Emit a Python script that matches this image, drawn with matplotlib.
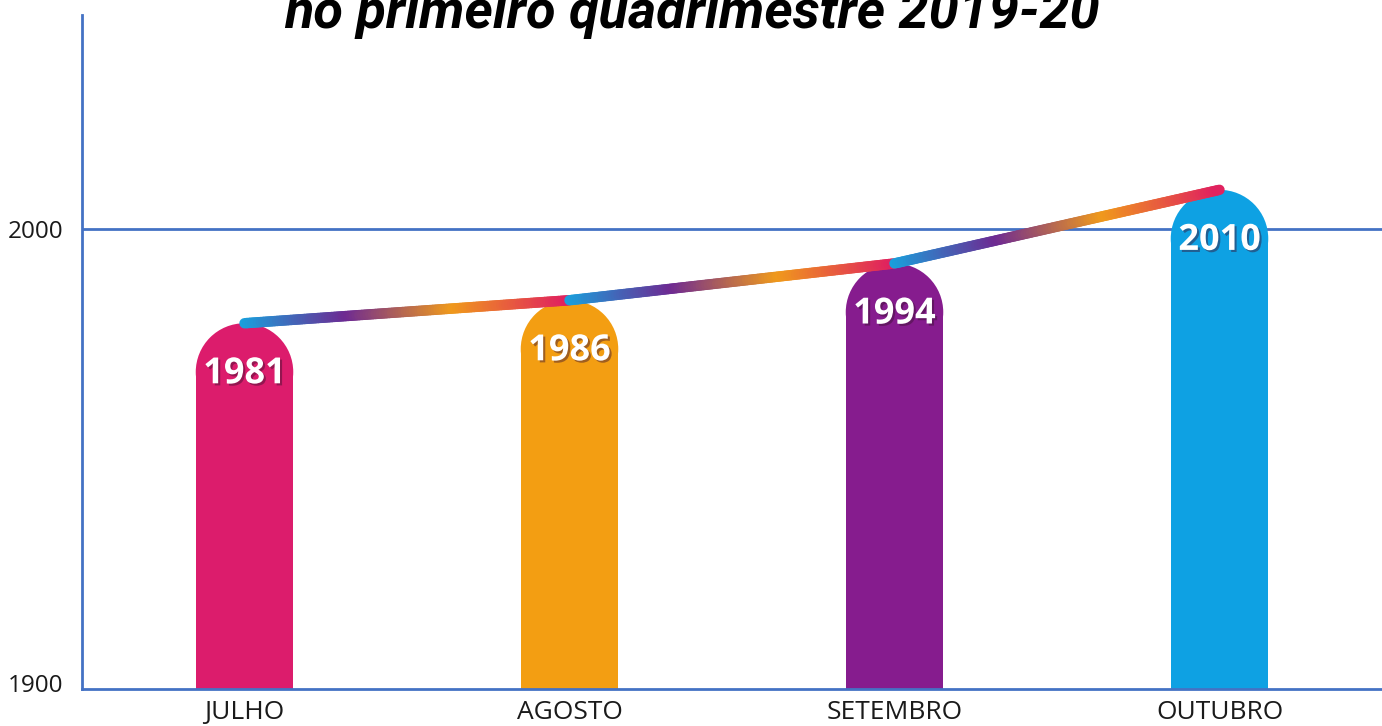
import matplotlib
matplotlib.use("Agg")
import matplotlib.pyplot as plt
import numpy as np
from matplotlib.patches import Ellipse
from matplotlib.collections import LineCollection
from matplotlib.colors import LinearSegmentedColormap
import matplotlib.patheffects as pe
import matplotlib.transforms as mtransforms

# ---- data ----
categories = ["JULHO", "AGOSTO", "SETEMBRO", "OUTUBRO"]
values = [1981, 1986, 1994, 2010]
bar_colors = ["#DC1C6C", "#F39E12", "#861C8E", "#0EA1E3"]
yticks = [1900, 2000]
title = "no primeiro quadrimestre 2019-20"

# ---- layout ----
W, H = 1382, 726
fig = plt.figure(figsize=(W / 100, H / 100), dpi=100)
ax_left, ax_right = 82 / W, 1.0
ax_bottom, ax_top = 1 - 689 / H, 1 - 15 / H
ax = fig.add_axes([ax_left, ax_bottom, ax_right - ax_left, ax_top - ax_bottom])

ymin, ymax = 1900, 2046.5
ax.set_xlim(-0.5, len(categories) - 0.5)
ax.set_ylim(ymin, ymax)

axis_blue = "#4472C4"
for s in ["top", "right"]:
    ax.spines[s].set_visible(False)
for s in ["left", "bottom"]:
    ax.spines[s].set_color(axis_blue)
    ax.spines[s].set_linewidth(2)
ax.set_yticks(yticks)
ax.set_yticklabels([str(t) for t in yticks])
ax.set_xticks(range(len(categories)))
ax.set_xticklabels(categories)
ax.tick_params(axis="both", length=0, labelcolor="#1a1a1a")
ax.tick_params(axis="y", pad=13.5, labelsize=17.5)
ax.tick_params(axis="x", pad=8, labelsize=19)
for lab in ax.get_xticklabels() + ax.get_yticklabels():
    lab.set_fontfamily(["Open Sans", "DejaVu Sans"])
# bottom tick label sits slightly above the axis line
ylabs = ax.get_yticklabels()
ylabs[0].set_transform(ylabs[0].get_transform() +
                       mtransforms.ScaledTranslation(0, 6 / 100, fig.dpi_scale_trans))
ax.axhline(2000, color=axis_blue, lw=2, zorder=0)

# bar geometry
bar_w = 0.30
ax_w_px = (ax_right - ax_left) * W
ax_h_px = (ax_top - ax_bottom) * H
r_px = bar_w * ax_w_px / len(categories) / 2
r_data = r_px * (ymax - ymin) / ax_h_px
cap_off = 1.5

x = np.arange(len(categories))
tops = [v - cap_off for v in values]
ax.bar(x, [t - r_data - ymin for t in tops], width=bar_w, bottom=ymin,
       color=bar_colors, zorder=2, linewidth=0)
for xi, t, c in zip(x, tops, bar_colors):
    ax.add_patch(Ellipse((xi, t - r_data), bar_w, 2 * r_data, color=c,
                         zorder=2, lw=0))

# gradient line segments
cmap = LinearSegmentedColormap.from_list(
    "grad", [(0.0, "#1A9FDC"), (0.32, "#6E2A92"), (0.65, "#F09A1C"), (1.0, "#E0225F")])
n = 120
for i in range(len(x) - 1):
    xs = np.linspace(x[i], x[i + 1], n)
    ys = np.linspace(tops[i], tops[i + 1], n)
    pts = np.column_stack([xs, ys]).reshape(-1, 1, 2)
    segs = np.concatenate([pts[:-1], pts[1:]], axis=1)
    lc = LineCollection(segs, colors=cmap(np.linspace(0, 1, n - 1)),
                        linewidths=7.5, capstyle="round", zorder=4 + i)
    ax.add_collection(lc)

# value labels
label_drop = 12.6
for xi, v in zip(x, values):
    ax.text(xi, v - label_drop, str(v), ha="center", va="center",
            color="white", fontsize=26, fontweight="bold",
            family=["Open Sans", "DejaVu Sans"], zorder=10,
            path_effects=[pe.withSimplePatchShadow(offset=(1.5, -1.5),
                                                   shadow_rgbFace="#3a1030",
                                                   alpha=0.45)])

# title (partially cut at top, as in the source image)
fig.text(692 / W, 1 - 28 / H, title, ha="center", va="baseline",
         fontsize=39, fontweight="bold", fontstyle="italic",
         family=["Roboto", "DejaVu Sans"], color="black")

fig.savefig("out.png", dpi=100)
